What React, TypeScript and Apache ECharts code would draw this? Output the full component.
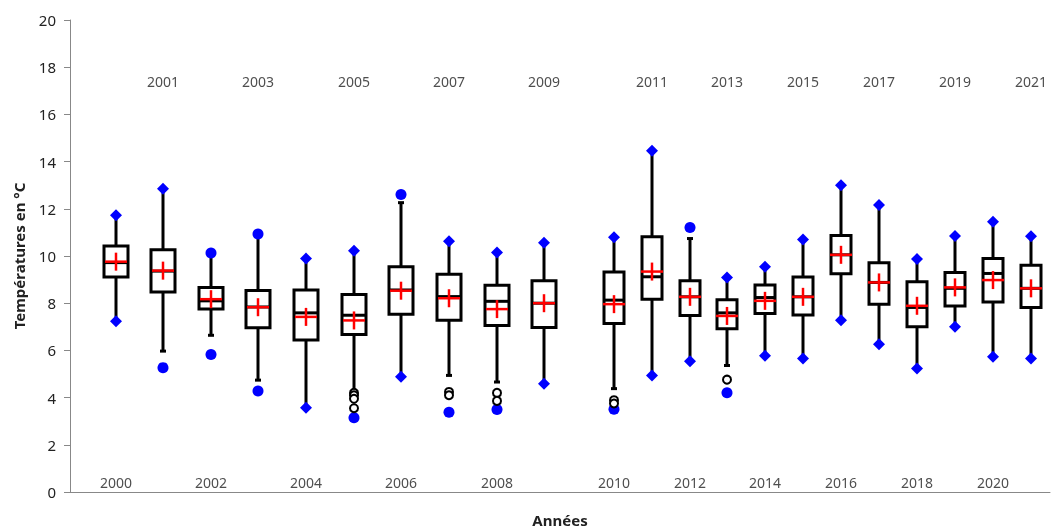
import { useEffect, useRef } from 'react';
import * as echarts from 'echarts';

const years = [2000, 2001, 2002, 2003, 2004, 2005, 2006, 2007, 2008, 2009, 2010,
    2011, 2012, 2013, 2014, 2015, 2016, 2017, 2018, 2019, 2020, 2021];
// horizontal slot of each box on the (hidden) x axis
const xPos = [46, 93, 141, 188, 236, 284, 331, 379, 427, 474, 544,
    582, 620, 657, 695, 733, 771, 809, 847, 885, 923, 961];
const whiskerLow = [7.24, 5.97, 6.64, 4.74, 3.57, 4.3, 4.88, 4.94, 4.66, 4.59, 4.38,
    4.94, 5.54, 5.36, 5.77, 5.66, 7.28, 6.26, 5.23, 7.0, 5.73, 5.66];
const q1 = [9.11, 8.47, 7.75, 6.96, 6.44, 6.67, 7.53, 7.28, 7.06, 6.97, 7.14,
    8.17, 7.48, 6.92, 7.56, 7.5, 9.25, 7.96, 7.0, 7.88, 8.05, 7.82];
const median = [9.72, 9.36, 8.1, 7.84, 7.59, 7.49, 8.56, 8.28, 8.08, 8.0, 8.13,
    9.12, 8.27, 7.59, 8.24, 8.27, 10.05, 8.88, 7.82, 8.63, 9.26, 8.63];
const q3 = [10.42, 10.27, 8.66, 8.54, 8.56, 8.37, 9.54, 9.23, 8.76, 8.95, 9.32,
    10.82, 8.95, 8.15, 8.77, 9.11, 10.87, 9.71, 8.91, 9.3, 9.89, 9.61];
const whiskerHigh = [11.73, 12.85, 10.13, 10.93, 9.89, 10.22, 12.26, 10.63, 10.15, 10.56, 10.79,
    14.46, 10.74, 9.09, 9.54, 10.7, 13.0, 12.16, 9.87, 10.85, 11.45, 10.84];
const mean = [9.76, 9.38, 8.17, 7.83, 7.42, 7.27, 8.53, 8.21, 7.75, 8.0, 7.96,
    9.34, 8.27, 7.46, 8.1, 8.27, 10.05, 8.88, 7.89, 8.67, 8.98, 8.63];
// [year index, value]
const diamonds = [
    [0, 11.73], [0, 7.24], [1, 12.85], [4, 9.89], [4, 3.57], [5, 10.22], [6, 4.88],
    [7, 10.63], [8, 10.15], [9, 10.56], [9, 4.59], [10, 10.79], [11, 14.46], [11, 4.94],
    [12, 5.54], [13, 9.09], [14, 9.54], [14, 5.77], [15, 10.7], [15, 5.66], [16, 13.0],
    [16, 7.28], [17, 12.16], [17, 6.26], [18, 9.87], [18, 5.23], [19, 10.85], [19, 7.0],
    [20, 11.45], [20, 5.73], [21, 10.84], [21, 5.66],
];
const extremes = [
    [1, 5.27], [2, 10.13], [2, 5.83], [3, 10.93], [3, 4.28], [5, 3.15], [6, 12.61],
    [7, 3.38], [8, 3.5], [10, 3.51], [12, 11.21], [13, 4.21],
];
const outliers = [
    [5, 4.2], [5, 4.1], [5, 3.95], [5, 3.55], [7, 4.24], [7, 4.1], [8, 4.2], [8, 3.86],
    [10, 3.89], [10, 3.75], [13, 4.76],
];
const labelTop = 17.4;
const labelBottom = 0.4;

export default function App() {
    const chartRef = useRef<HTMLDivElement>(null);

    useEffect(() => {
        if (!chartRef.current) return;
        const chart = echarts.init(chartRef.current, null, { renderer: 'svg' });

        const toPt = (p: number[]) => [xPos[p[0]], p[1]];

        const option: echarts.EChartsOption = {
            animation: false,
            textStyle: { fontFamily: 'Noto Sans' },
            grid: { left: 70, right: 12, top: 20, bottom: 32 },
            xAxis: {
                type: 'value', min: 0, max: 980,
                axisLine: { lineStyle: { color: '#888', width: 1 } },
                axisTick: { show: false }, axisLabel: { show: false }, splitLine: { show: false },
                name: 'Années', nameLocation: 'middle', nameGap: 20,
                nameTextStyle: { fontWeight: 'bold', fontSize: 15, color: '#222' },
            },
            yAxis: {
                type: 'value', min: 0, max: 20, interval: 2,
                axisLine: { show: true, lineStyle: { color: '#888' } },
                axisTick: { show: true, length: 6, lineStyle: { color: '#888' } },
                axisLabel: { fontSize: 15, color: '#222', margin: 14 },
                splitLine: { show: false },
                name: 'Températures en °C', nameLocation: 'middle', nameGap: 44,
                nameTextStyle: { fontWeight: 'bold', fontSize: 15, color: '#222' },
            },
            series: [
                {
                    type: 'custom',
                    data: years.map((_, i) => [xPos[i], whiskerLow[i], q1[i], median[i], q3[i], whiskerHigh[i], mean[i], i]),
                    renderItem: (_params: any, api: any) => {
                        const x = api.value(0);
                        const idx = api.value(7);
                        const w = idx < 10 ? 24 : 20;
                        const [cx, yLow] = api.coord([x, api.value(1)]);
                        const yQ1 = api.coord([x, api.value(2)])[1];
                        const yMed = api.coord([x, api.value(3)])[1];
                        const yQ3 = api.coord([x, api.value(4)])[1];
                        const yHigh = api.coord([x, api.value(5)])[1];
                        const yMean = api.coord([x, api.value(6)])[1];
                        const black = { stroke: '#000', lineWidth: 3, fill: 'none' };
                        const red = { stroke: '#ff0000', lineWidth: 2.5 };
                        return {
                            type: 'group',
                            children: [
                                { type: 'line', shape: { x1: cx, y1: yHigh, x2: cx, y2: yQ3 }, style: black },
                                { type: 'line', shape: { x1: cx, y1: yQ1, x2: cx, y2: yLow }, style: black },
                                { type: 'line', shape: { x1: cx - 3, y1: yHigh, x2: cx + 3, y2: yHigh }, style: black },
                                { type: 'line', shape: { x1: cx - 3, y1: yLow, x2: cx + 3, y2: yLow }, style: black },
                                { type: 'rect', shape: { x: cx - w / 2, y: yQ3, width: w, height: yQ1 - yQ3 }, style: { ...black, fill: '#fff' } },
                                { type: 'line', shape: { x1: cx - w / 2, y1: yMed, x2: cx + w / 2, y2: yMed }, style: black },
                                { type: 'line', shape: { x1: cx - 11, y1: yMean, x2: cx + 11, y2: yMean }, style: red },
                                { type: 'line', shape: { x1: cx, y1: yMean - 9, x2: cx, y2: yMean + 9 }, style: red },
                            ],
                        };
                    },
                    z: 2,
                },
                {
                    type: 'scatter', data: diamonds.map(toPt), symbol: 'diamond', symbolSize: 12,
                    itemStyle: { color: '#0000ff', opacity: 1 }, z: 3,
                },
                {
                    type: 'scatter', data: extremes.map(toPt), symbol: 'circle', symbolSize: 11,
                    itemStyle: { color: '#0000ff', opacity: 1 }, z: 3,
                },
                {
                    type: 'scatter', data: outliers.map(toPt), symbol: 'circle', symbolSize: 8,
                    itemStyle: { color: '#fff', borderColor: '#000', borderWidth: 2, opacity: 1 }, z: 3,
                },
                {
                    type: 'scatter', symbolSize: 0, silent: true,
                    data: years.map((y, i) => ({ value: [xPos[i], i % 2 === 0 ? labelBottom : labelTop], name: String(y) })),
                    label: {
                        show: true, position: 'inside', formatter: '{b}', fontSize: 14, color: '#222',
                    },
                },
            ],
        };

        chart.setOption(option);
        return () => chart.dispose();
    }, []);

    return <div ref={chartRef} style={{ position: 'fixed', left: 0, top: 0, width: 1062, height: 532 }} />;
}
